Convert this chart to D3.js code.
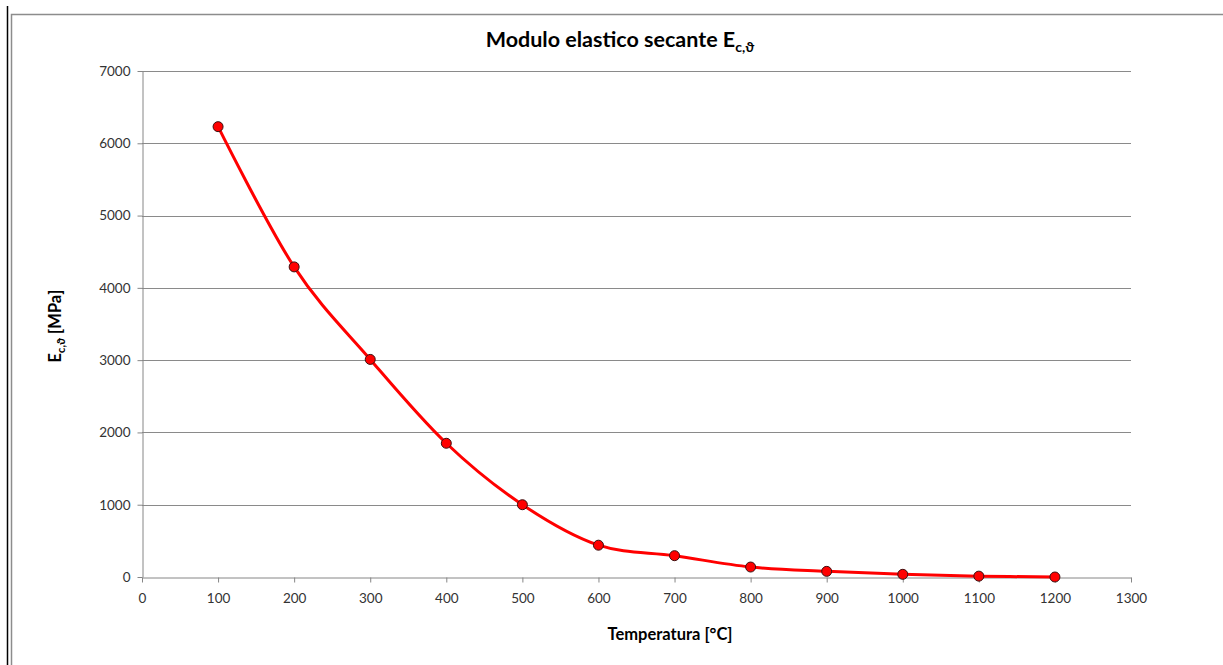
<!DOCTYPE html>
<html>
<head>
<meta charset="utf-8">
<script src="https://cdn.jsdelivr.net/npm/d3@7"></script>
<style>
  body { margin: 0; background: #fff; }
  svg { display: block; font-family: Lato, "Open Sans", sans-serif; }
</style>
</head>
<body>
<svg id="chart" width="1223" height="665"></svg>
<script>
const temps = [100, 200, 300, 400, 500, 600, 700, 800, 900, 1000, 1100, 1200];
const modulus = [6230, 4290, 3010, 1850, 1000, 440, 295, 138, 78, 37, 12, 0];
const xTicks = d3.range(0, 1301, 100);
const yTicks = d3.range(0, 7001, 1000);

const svg = d3.select('#chart');
const plot = { left: 142, right: 1131, top: 71, bottom: 577 };

// window edge + chart border
svg.append('line').attr('x1', 7.5).attr('x2', 7.5).attr('y1', 6).attr('y2', 665)
  .attr('stroke', '#000').attr('stroke-width', 1.5);
svg.append('path').attr('d', 'M11.5,665V14.5H1223')
  .attr('fill', 'none').attr('stroke', '#8c8c8c').attr('stroke-width', 1.5);

const x = d3.scaleLinear().domain([0, 1300]).range([plot.left, plot.right]);
const y = d3.scaleLinear().domain([0, 7000]).range([plot.bottom, plot.top]);

// gridlines
svg.append('g').selectAll('line').data(yTicks.filter(d => d > 0)).join('line')
  .attr('x1', plot.left).attr('x2', plot.right)
  .attr('y1', d => Math.round(y(d)) + 0.5).attr('y2', d => Math.round(y(d)) + 0.5)
  .attr('stroke', '#8a8a8a').attr('stroke-width', 1);

const xAxis = svg.append('g')
  .attr('transform', `translate(0,${plot.bottom + 0.5})`)
  .call(d3.axisBottom(x).tickValues(xTicks).tickSize(5).tickSizeOuter(0).tickFormat(d3.format('d')));
const yAxis = svg.append('g')
  .attr('transform', `translate(${plot.left + 0.5},0)`)
  .call(d3.axisLeft(y).tickValues(yTicks).tickSize(5).tickSizeOuter(0).tickFormat(d3.format('d')));

[xAxis, yAxis].forEach(g => {
  g.select('.domain').attr('stroke', '#868686');
  g.selectAll('.tick line').attr('stroke', '#868686');
  g.selectAll('.tick text').attr('fill', '#333').style('font-size', '13.5px')
    .style('font-family', 'Lato, "Open Sans", sans-serif');
});
xAxis.selectAll('.tick text').attr('dy', '1.3em');
yAxis.selectAll('.tick text').attr('x', -12);

// smoothed line
const data = temps.map((t, i) => ({ t, e: modulus[i] }));
const line = d3.line().x(d => x(d.t)).y(d => y(d.e)).curve(d3.curveCardinal.tension(0));
svg.append('path').datum(data).attr('d', line)
  .attr('fill', 'none').attr('stroke', '#ff0000').attr('stroke-width', 3);

svg.append('g').selectAll('circle').data(data).join('circle')
  .attr('cx', d => x(d.t)).attr('cy', d => y(d.e)).attr('r', 5)
  .attr('fill', '#ff0000').attr('stroke', '#3a1010').attr('stroke-width', 1);

// title
const title = svg.append('text').attr('x', 620).attr('y', 47)
  .attr('text-anchor', 'middle').attr('font-weight', 'bold').attr('font-size', 21.5).attr('fill', '#000');
title.append('tspan').text('Modulo elastico secante E');
title.append('tspan').attr('font-size', 14).attr('dy', 5).text('c,ϑ');

// axis titles
svg.append('text').attr('x', 670).attr('y', 640).attr('text-anchor', 'middle')
  .attr('font-weight', 'bold').attr('font-size', 16.5).attr('fill', '#000')
  .text('Temperatura [°C]');

const yt = svg.append('text').attr('transform', 'translate(61,326) rotate(-90)')
  .attr('text-anchor', 'middle').attr('font-weight', 'bold').attr('font-size', 16.5).attr('fill', '#000');
yt.append('tspan').text('E');
yt.append('tspan').attr('font-size', 11).attr('dy', 4).text('c,ϑ');
yt.append('tspan').attr('dy', -4).text(' [MPa]');
</script>
</body>
</html>
